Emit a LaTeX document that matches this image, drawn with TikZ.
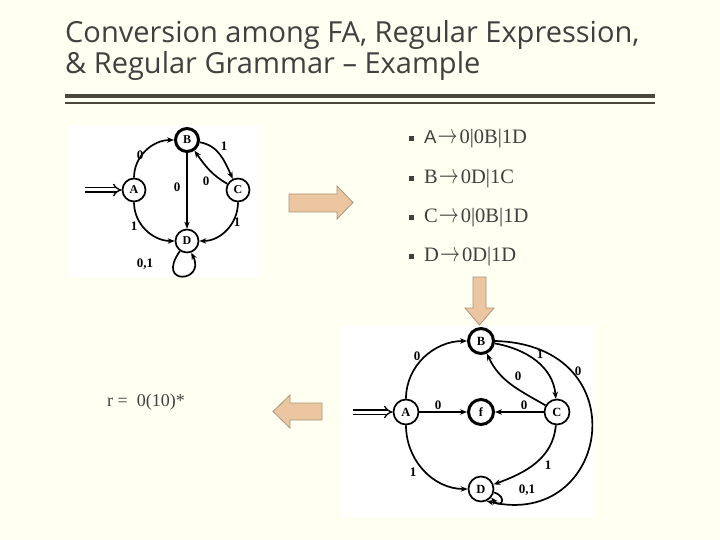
\documentclass[tikz,border=0pt]{standalone}
\usepackage{fontspec}
\usepackage{graphicx}
\setmainfont{Liberation Serif}
\newfontfamily\titlefont{Open Sans}
\newfontfamily\arialfont{Liberation Sans}
\newcommand{\prodarrow}{\kern1pt\resizebox{20pt}{10pt}{$\rightarrow$}\kern2pt}
\usetikzlibrary{arrows.meta}
\definecolor{bg}{RGB}{255,255,242}
\definecolor{ink}{RGB}{64,64,64}
\definecolor{rulec}{RGB}{74,70,60}
\definecolor{arrfill}{RGB}{236,198,160}
\definecolor{arrdraw}{RGB}{168,150,122}
\begin{document}
\begin{tikzpicture}[x=1pt,y=1pt,
  st/.style={circle,draw,line width=1.7pt,minimum size=23pt,inner sep=0pt,font=\bfseries\fontsize{12}{12}\selectfont},
  stb/.style={st,minimum size=25pt,font=\bfseries\fontsize{12.5}{12.5}\selectfont},
  acc/.style={line width=3pt},
  tr/.style={line width=1.7pt,-{Stealth[length=7pt,width=5.5pt]}},
  start/.style={double,double distance=3pt,line width=1.3pt,-{Implies}},
  lbl/.style={font=\bfseries\fontsize{13}{13}\selectfont,inner sep=0pt},
  blk/.style={fill=arrfill,draw=arrdraw,line width=0.8pt},
  bul/.style={font=\fontsize{20.5}{20.5}\selectfont,text=ink,anchor=base west,inner sep=0pt},
  rxs/.style={font=\fontsize{18}{18}\selectfont,text=ink,anchor=base west,inner sep=0pt},
  sq/.style={fill=ink,minimum size=5pt,inner sep=0pt},
  ttl/.style={font=\titlefont\fontsize{29}{29}\selectfont,text=ink,anchor=base west,inner sep=0pt}]
\useasboundingbox (0,0) rectangle (720,-540);
\fill[bg] (0,0) rectangle (720,-540);
% title
\node[ttl] (t1) at (65,-42.7) {Conversion among FA, Regular Expression,};
\node[ttl] (t2) at (65,-73.3) {\& Regular Grammar – Example};
\draw[rulec,line width=4pt] (65,-95.7) -- (655,-95.7);
\draw[rulec,line width=2pt] (65,-102.7) -- (655,-102.7);
% panels
\fill[white] (68,-125) rectangle (262,-277);
\fill[white] (341,-325) rectangle (593,-517);
% left FA
\node[st,acc] (B1) at (187,-140) {B};
\node[st] (A1) at (134,-190) {A};
\node[st] (C1) at (238,-190) {C};
\node[st] (D1) at (187,-241) {D};
\coordinate (s1) at (85,-190);
\draw[start] (s1) -- (A1);
\draw[tr] (A1) to[out=90,in=180] (B1);
\draw[tr] (B1) to[out=-10,in=115] (C1);
\draw[tr] (C1) to[out=150,in=-55] (B1);
\draw[tr] (B1) -- (D1);
\draw[tr] (A1) to[out=-90,in=180] (D1);
\draw[tr] (C1) to[out=-90,in=0] (D1);
\draw[tr] (D1.235) .. controls +(-25,-35) and +(15,-30) .. (D1.290);
\node[lbl] (l1) at (140,-155) {0};
\node[lbl] (l2) at (224,-146) {1};
\node[lbl] (l3) at (206,-181) {0};
\node[lbl] (l4) at (177,-187) {0};
\node[lbl] (l5) at (134,-226) {1};
\node[lbl] (l6) at (237,-222) {1};
\node[lbl] (l7) at (145,-264) {0,1};
% right arrow
\draw[blk] (289,-194) -- (337,-194) -- (337,-186) -- (353,-202.5) -- (337,-219) -- (337,-212) -- (289,-212) -- cycle;
% grammar
\node[sq] (q1) at (411.5,-138.5) {};
\node[bul] (g1) at (424,-144) {{\arialfont\fontsize{18.6}{18.6}\selectfont A}\prodarrow 0|0B|1D};
\node[sq] (q2) at (411.5,-178.5) {};
\node[bul] (g2) at (424,-184) {B\prodarrow 0D|1C};
\node[sq] (q3) at (411.5,-217.2) {};
\node[bul] (g3) at (424,-222.7) {C\prodarrow 0|0B|1D};
\node[sq] (q4) at (411.5,-256.2) {};
\node[bul] (g4) at (424,-261.7) {D\prodarrow 0D|1D};
% down arrow
\draw[blk] (473,-277) -- (486,-277) -- (486,-308) -- (494,-308) -- (479.5,-325) -- (465,-308) -- (473,-308) -- cycle;
% bottom FA
\node[stb,acc] (B2) at (481,-341) {B};
\node[stb] (A2) at (406,-412) {A};
\node[stb,acc] (F2) at (481,-412) {f};
\node[stb] (C2) at (557,-412) {C};
\node[stb] (D2) at (481,-489) {D};
\coordinate (s2) at (353,-412);
\draw[start] (s2) -- (A2);
\draw[tr] (A2) to[out=90,in=180] (B2);
\draw[tr] (B2) to[out=-10,in=95] (C2);
\draw[tr] (C2) to[out=150,in=-65] (B2);
\draw[tr] (A2) -- (F2);
\draw[tr] (C2) -- (F2);
\draw[tr] (A2) to[out=-90,in=180] (D2);
\draw[tr] (C2) to[out=-95,in=20] (D2);
\draw[tr] (B2.east) .. controls (640,-345) and (610,-530) .. (D2.-65);
\draw[tr] (D2.-15) .. controls +(14,-4) and +(10,-12) .. (D2.-40);
\node[lbl] (m1) at (417,-356) {0};
\node[lbl] (m2) at (540,-354) {1};
\node[lbl] (m3) at (518,-376) {0};
\node[lbl] (m4) at (438,-405) {0};
\node[lbl] (m5) at (524,-405) {0};
\node[lbl] (m6) at (413,-472) {1};
\node[lbl] (m7) at (548,-465) {1};
\node[lbl] (m8) at (578,-371) {0};
\node[lbl] (m9) at (527,-490) {0,1};
% left arrow and regex
\draw[blk] (322,-403) -- (290,-403) -- (290,-395) -- (273,-411.5) -- (290,-428) -- (290,-420) -- (322,-420) -- cycle;
\node[rxs] (rx) at (107,-406.7) {r =\ \ 0(10)*};
\end{tikzpicture}
\end{document}
